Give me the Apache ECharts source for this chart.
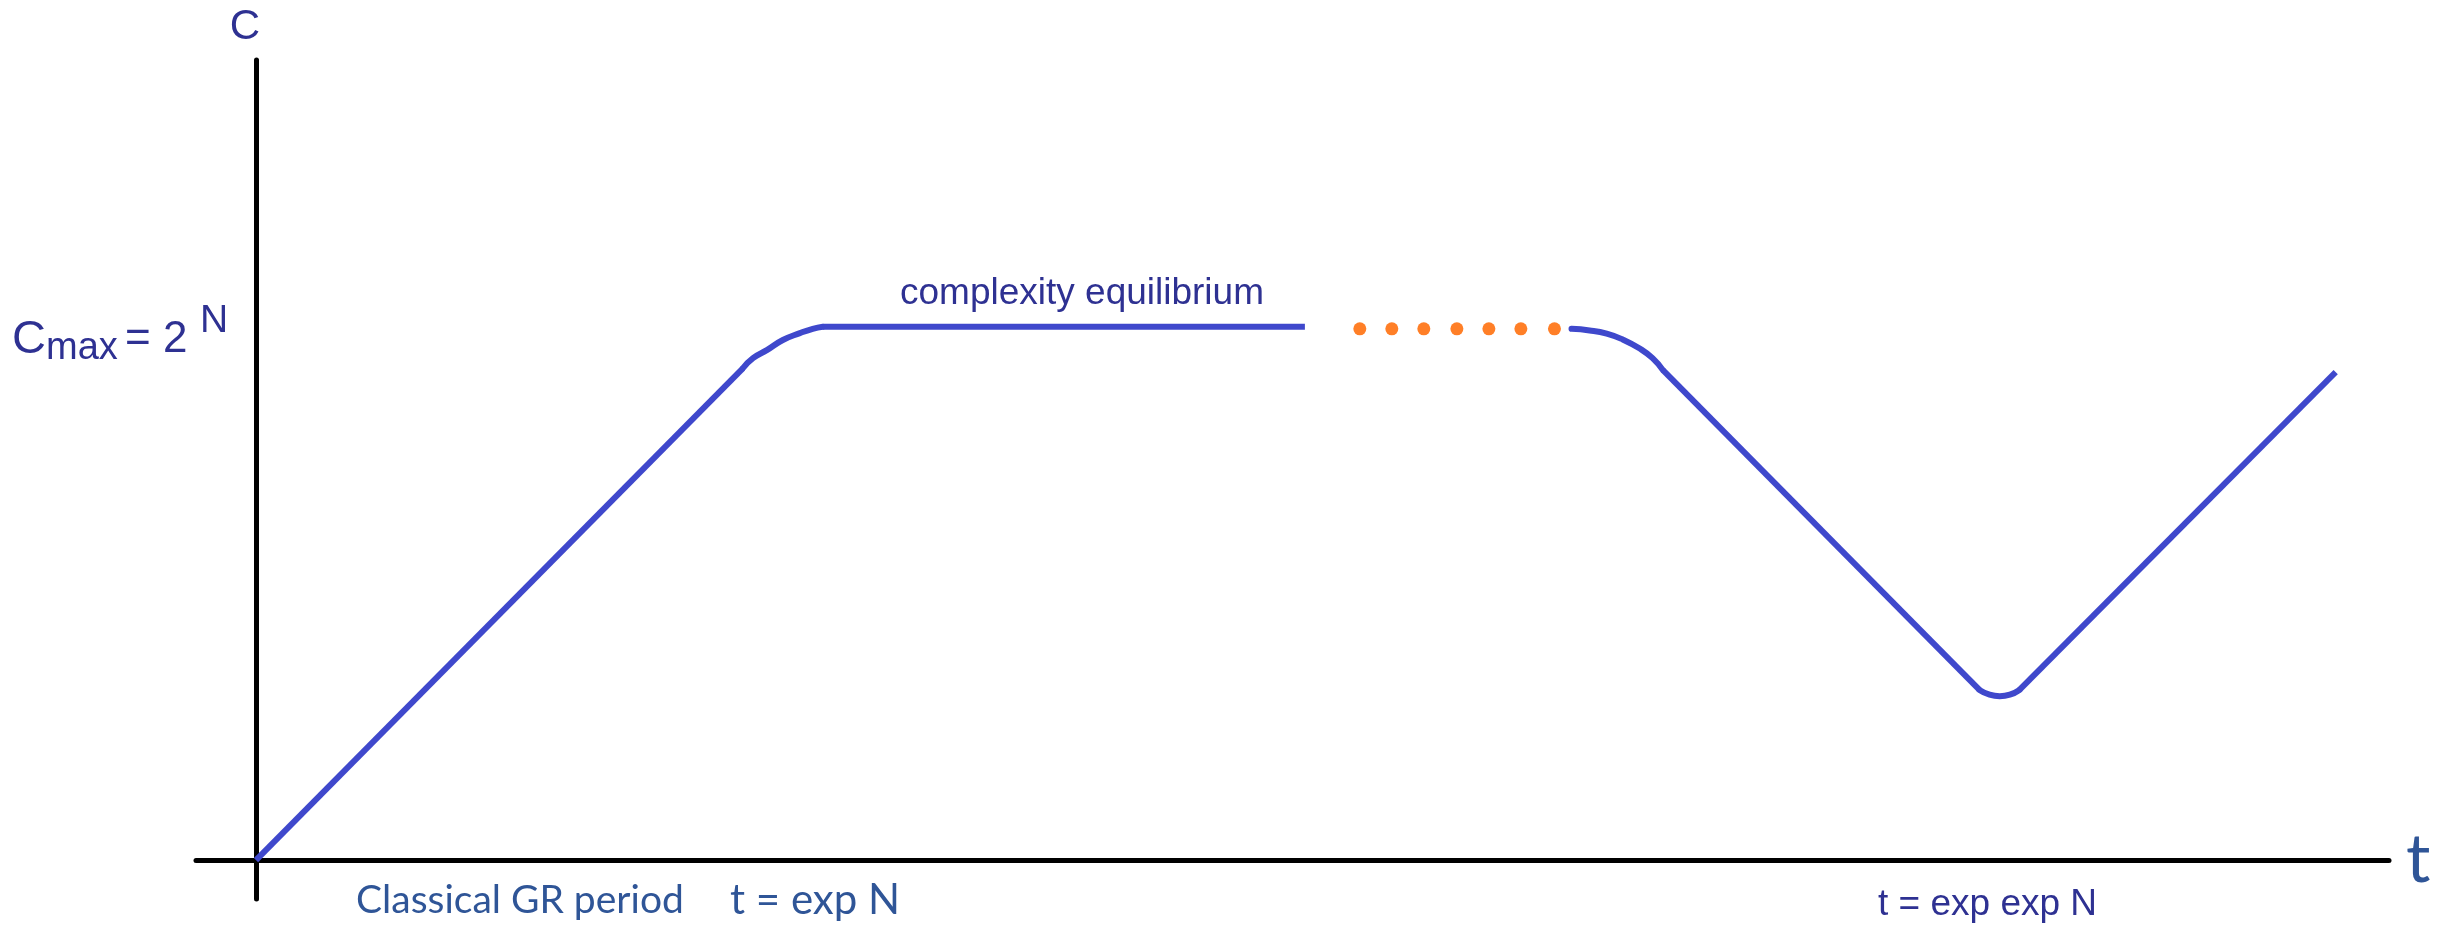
<!DOCTYPE html>
<html>
<head>
<meta charset="utf-8">
<title>complexity vs time</title>
<script src="https://cdn.jsdelivr.net/npm/echarts@6/dist/echarts.min.js"></script>
<style>
  html, body { margin: 0; padding: 0; background: #fff; }
  #container { width: 2455px; height: 930px; }
</style>
</head>
<body>
<div id="container"></div>
<script>
// curve, [t, C] with C_max = 100
var riseLine = [[0, 0], [91.3, 92.2]];
var riseCorner = [
  [91.3, 92.2], [93.2, 94.1], [95.8, 95.6], [98.8, 97.5],
  [102, 98.8], [104.4, 99.6], [106.3, 100]
];
var plateau = [[106.3, 100], [196.7, 100]];
var dotPoints = [
  [207.0, 99.6], [213.0, 99.6], [219.0, 99.6], [225.2, 99.6],
  [231.2, 99.6], [237.2, 99.6], [243.5, 99.6]
];
var fallCorner = [
  [246.7, 99.6], [250.1, 99.3], [253.3, 98.7], [256.3, 97.6],
  [259.5, 95.9], [261.9, 94.1], [263.8, 91.9]
];
var fallLine = [[263.8, 91.9], [323.2, 31.9]];
var troughCorner = [
  [323.2, 31.9], [325.1, 31.0], [327, 30.7], [328.9, 31.0], [330.7, 31.9]
];
var climbLine = [[330.7, 31.9], [390, 91.5]];

var tRange = [-11.25, 400];
var cRange = [-7.3, 150];

var lineColor = "#3F48CC";
var dotColor = "#FF7F27";
var navy = "#2E3192";
var office = "#2F5597";
var arial = "'Liberation Sans', Arial, sans-serif";
var calibri = "Lato, 'Open Sans', sans-serif";

function piece(name, data, curved) {
  return {
    name: name,
    type: "line",
    data: data,
    showSymbol: false,
    smooth: curved ? 0.5 : false,
    lineStyle: { color: lineColor, width: 6, cap: curved ? "round" : "butt" }
  };
}

var chart = echarts.init(document.getElementById("container"));

var option = {
  animation: false,
  backgroundColor: "#fff",
  grid: {
    left: 196,
    right: 66,
    top: 60,
    bottom: 31,
    containLabel: false,
    outerBoundsMode: "none"
  },
  xAxis: {
    type: "value",
    min: tRange[0],
    max: tRange[1],
    axisLine: { onZero: true, lineStyle: { color: "#000", width: 5 } },
    axisTick: { show: false },
    axisLabel: { show: false },
    splitLine: { show: false },
    name: "t",
    nameLocation: "end",
    nameGap: 17,
    nameTextStyle: {
      fontFamily: calibri,
      fontSize: 68,
      color: office,
      padding: [0, 0, -20, 0]
    }
  },
  yAxis: {
    type: "value",
    min: cRange[0],
    max: cRange[1],
    axisLine: { onZero: true, lineStyle: { color: "#000", width: 5 } },
    axisTick: { show: false },
    axisLabel: { show: false },
    splitLine: { show: false },
    name: "C",
    nameLocation: "end",
    nameGap: 12,
    nameTextStyle: {
      fontFamily: arial,
      fontSize: 42,
      color: navy,
      padding: [0, 22, 0, 0]
    }
  },
  series: [
    piece("rise", riseLine, false),
    piece("riseCorner", riseCorner, true),
    piece("plateau", plateau, false),
    {
      name: "dots",
      type: "scatter",
      data: dotPoints,
      symbol: "circle",
      symbolSize: 13,
      itemStyle: { color: dotColor, opacity: 1 }
    },
    piece("fallCorner", fallCorner, true),
    piece("fall", fallLine, false),
    piece("trough", troughCorner, true),
    piece("climb", climbLine, false)
  ],
  graphic: [
    // C_max = 2^N
    { type: "text", left: 12, top: 317, style: { text: "C", font: "47px " + arial, fill: navy } },
    { type: "text", left: 46, top: 330, style: { text: "max", font: "38px " + arial, fill: navy } },
    { type: "text", left: 125, top: 318, style: { text: "= 2", font: "44px " + arial, fill: navy } },
    { type: "text", left: 200, top: 302, style: { text: "N", font: "39px " + arial, fill: navy } },
    {
      type: "text", left: 900, top: 275,
      style: { text: "complexity equilibrium", font: "37px " + arial, fill: navy }
    },
    {
      type: "text", left: 356, top: 881,
      style: { text: "Classical GR period", font: "39px " + calibri, fill: office }
    },
    {
      type: "text", left: 730, top: 879,
      style: { text: "t = exp N", font: "42px " + calibri, fill: office }
    },
    {
      type: "text", left: 1878, top: 886,
      style: { text: "t = exp exp N", font: "37px " + arial, fill: navy }
    }
  ]
};

chart.setOption(option);
</script>
</body>
</html>
